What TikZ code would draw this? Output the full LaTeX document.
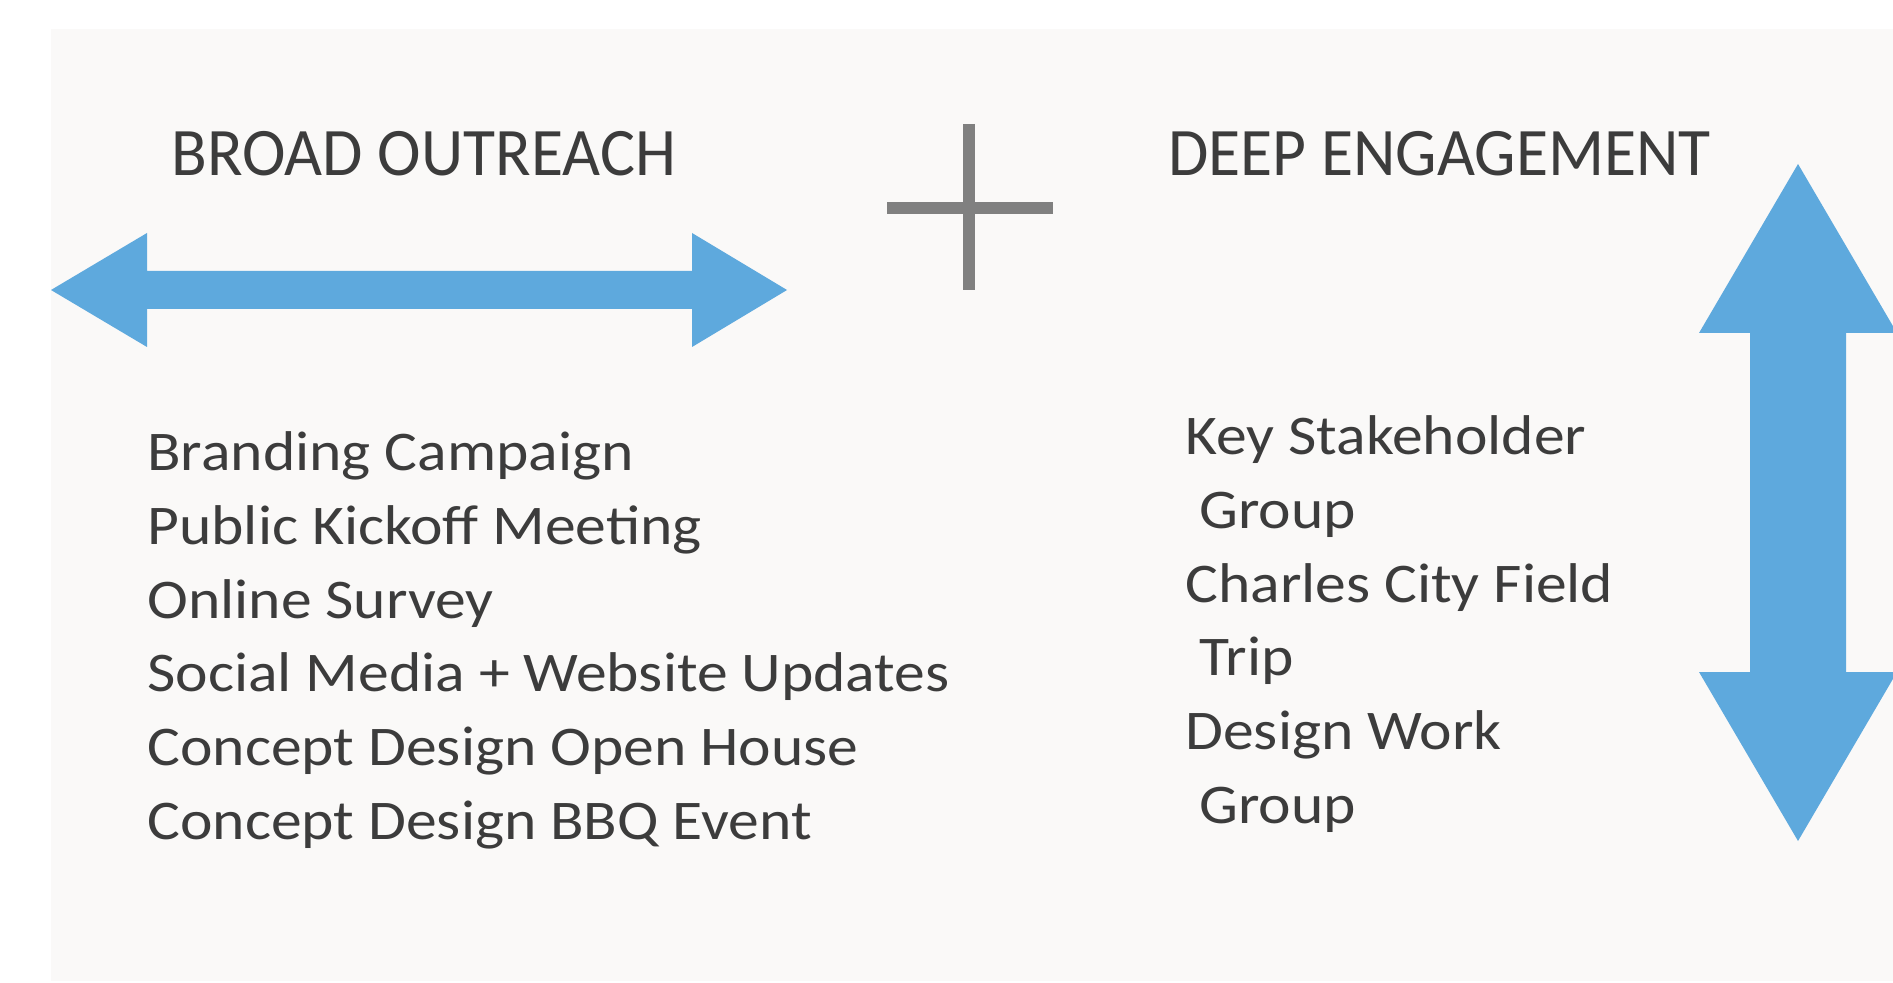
\documentclass[tikz,border=0pt]{standalone}
\usepackage{fontspec}
\setmainfont{Carlito}
\newfontfamily\headfont[FakeStretch=0.965]{Carlito}
\newfontfamily\itemfont[FakeStretch=1.1]{Carlito}
\definecolor{arrowblue}{RGB}{94,169,221}
\definecolor{bgfill}{RGB}{250,249,248}
\definecolor{plusgray}{RGB}{128,128,128}
\definecolor{textgray}{RGB}{60,60,60}
\begin{document}
\begin{tikzpicture}[x=0.5pt,y=-0.5pt,
  head/.style={text=textgray,inner sep=0pt,anchor=base west,font=\headfont\fontsize{34}{40}\selectfont},
  item/.style={text=textgray,inner sep=0pt,anchor=base west,font=\itemfont\fontsize{28}{34}\selectfont}]
\useasboundingbox (0,0) rectangle (1893,983);
\fill[bgfill] (51,29) rectangle (1893,981);
% headings and plus
\node[head] (broad) at (171,176) {BROAD OUTREACH};
\node[head] (deep) at (1168,176) {DEEP ENGAGEMENT};
\draw[plusgray,line width=6pt] (969,124) -- (969,290) (887,208) -- (1053,208);
% arrows
\fill[arrowblue] (51,290) -- (147,233) -- (147,271) -- (692,271) -- (692,233) -- (787,290)
  -- (692,347) -- (692,309) -- (147,309) -- (147,347) -- cycle;
\fill[arrowblue] (1798,164) -- (1897,333) -- (1846,333) -- (1846,672) -- (1897,672) -- (1798,841)
  -- (1699,672) -- (1750,672) -- (1750,333) -- (1699,333) -- cycle;
% lists
\foreach \txt [count=\i] in {Branding Campaign,Public Kickoff Meeting,Online Survey,
  Social Media + Website Updates,Concept Design Open House,Concept Design BBQ Event}
  \node[item] (broad\i) at (147,{471+73.6*(\i-1)}) {\txt};
\foreach \txt [count=\i] in {Key Stakeholder,{\ Group},Charles City Field,{\ Trip},
  Design Work,{\ Group}}
  \node[item] (deep\i) at (1185,{455+73.6*(\i-1)}) {\txt};
\end{tikzpicture}
\end{document}
